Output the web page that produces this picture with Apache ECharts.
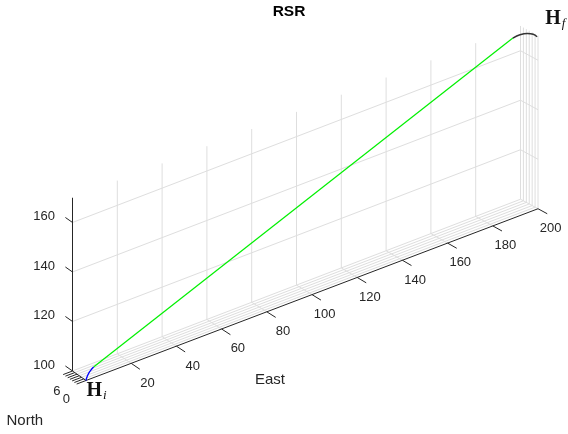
<!DOCTYPE html>
<html>
<head>
<meta charset="utf-8">
<script src="https://cdn.jsdelivr.net/npm/echarts@6/dist/echarts.min.js"></script>
<style>
  html, body { margin: 0; padding: 0; background: #ffffff; }
  #chart { width: 568px; height: 434px; }
</style>
</head>
<body>
<div id="chart"></div>
<script>
// Axis limits: East, North, Up
const eastLim = [0, 200];
const northLim = [0, 6];
const upLim = [100, 170];

// Tick values and their labels
const eastTicks = [20, 40, 60, 80, 100, 120, 140, 160, 180, 200];
const eastTickLabels = ['20', '40', '60', '80', '100', '120', '140', '160', '180', '200'];
const northTicks = [0, 1, 2, 3, 4, 5, 6];
const northTickLabels = ['0', '', '', '', '', '', '6'];
const upTicks = [100, 120, 140, 160];
const upTickLabels = ['100', '120', '140', '160'];

// First right turn (blue)
const turn1East = [0, 1.21, 2.63, 3.82, 4.87];
const turn1North = [0, 0.69, 1.21, 1.44, 1.5];
const turn1Up = [100, 100.75, 101.6, 102.2, 102.8];

// Straight climbing segment (green)
const straightEast = [4.87, 195.3];
const straightNorth = [1.5, 5.0];
const straightUp = [102.8, 167.4];

// Final right turn (black)
const turn2East = [195.3, 197.65, 199.15, 199.84, 200.0];
const turn2North = [5.0, 4.37, 3.0, 1.52, 0.3];
const turn2Up = [167.4, 168.3, 169.2, 169.6, 169.3];

// View: the ground plane is sheared into the page, North recedes up-left,
// with a little foreshortening growing toward the far East end.
const VIEW = { nE0: 0.995, nE1: 0.00148, uE: 0.347, uN: 0.64 };
function proj(e, n, u) {
  return [e - (VIEW.nE0 + VIEW.nE1 * e) * n, u + VIEW.uE * e + VIEW.uN * n];
}
function toXY(p) { return proj(p[0], p[1], p[2]); }
function seg(a, b) { return toXY(a).concat(toXY(b)); }

const AXIS_COLOR = '#262626';
const GRID_COLOR = '#dedede';
const TICK_FONT = '13px "Liberation Sans", Arial, sans-serif';

const eMin = eastLim[0], eMax = eastLim[1];
const nMin = northLim[0], nMax = northLim[1];
const uMin = upLim[0], uMax = upLim[1];

// Grid lines on the three back planes
const gridSegs = [];
// back wall (North = max)
eastTicks.forEach(e => { if (e < eMax) gridSegs.push(seg([e, nMax, uMin], [e, nMax, uMax])); });
upTicks.forEach(u => { if (u > uMin) gridSegs.push(seg([eMin, nMax, u], [eMax, nMax, u])); });
// floor (Up = min)
northTicks.forEach(n => { if (n > nMin) gridSegs.push(seg([eMin, n, uMin], [eMax, n, uMin])); });
eastTicks.forEach(e => gridSegs.push(seg([e, nMin, uMin], [e, nMax, uMin])));
// side wall (East = max)
northTicks.forEach(n => gridSegs.push(seg([eMax, n, uMin], [eMax, n, uMax])));
upTicks.forEach(u => { if (u > uMin) gridSegs.push(seg([eMax, nMin, u], [eMax, nMax, u])); });

// Axis lines
const axisSegs = [
  seg([eMin, nMin, uMin], [eMax, nMin, uMin]),
  seg([eMin, nMin, uMin], [eMin, nMax, uMin]),
  seg([eMin, nMax, uMin], [eMin, nMax, uMax])
];

function segSeries(data, color, width, z) {
  return {
    type: 'custom', coordinateSystem: 'cartesian2d', silent: true, clip: false, z: z,
    data: data, encode: { x: [0, 2], y: [1, 3] },
    renderItem: function (params, api) {
      const a = api.coord([api.value(0), api.value(1)]);
      const b = api.coord([api.value(2), api.value(3)]);
      return { type: 'line', shape: { x1: a[0], y1: a[1], x2: b[0], y2: b[1] },
               style: { stroke: color, lineWidth: width } };
    }
  };
}

// Ticks: drawn from the axis point along a direction taken from the view
function tickSeries(points, dirPoints, len, labels, lab) {
  const data = points.map((p, i) => toXY(p).concat(toXY(dirPoints[i])));
  return {
    type: 'custom', coordinateSystem: 'cartesian2d', silent: true, clip: false, z: 5,
    data: data, encode: { x: [0, 2], y: [1, 3] },
    renderItem: function (params, api) {
      const a = api.coord([api.value(0), api.value(1)]);
      const b = api.coord([api.value(2), api.value(3)]);
      let dx = b[0] - a[0], dy = b[1] - a[1];
      const L = Math.hypot(dx, dy); dx /= L; dy /= L;
      const children = [{
        type: 'line',
        shape: { x1: a[0], y1: a[1], x2: a[0] + dx * len, y2: a[1] + dy * len },
        style: { stroke: AXIS_COLOR, lineWidth: 1 }
      }];
      const t = labels[params.dataIndex];
      if (t) {
        const off = lab.perIndex && lab.perIndex[params.dataIndex] ? lab.perIndex[params.dataIndex] : [lab.dx, lab.dy];
        children.push({
          type: 'text', x: a[0] + off[0], y: a[1] + off[1],
          style: { text: t, fill: AXIS_COLOR, font: TICK_FONT, align: lab.align, verticalAlign: 'middle' }
        });
      }
      return { type: 'group', children: children };
    }
  };
}

function pathData(es, ns, us) { return es.map((e, i) => proj(e, ns[i], us[i])); }

// Endpoint labels H_i and H_f
const endpointData = [
  proj(turn1East[0], turn1North[0], turn1Up[0]),
  proj(turn2East[turn2East.length - 1], turn2North[turn2North.length - 1], turn2Up[turn2Up.length - 1])
];
const endpointSub = ['i', 'f'];
const endpointOffset = [[0.5, 10.5], [8.2, -17.8]];

const option = {
  animation: false,
  backgroundColor: '#ffffff',
  grid: { left: 18.2, right: 7.4, top: 9.25, bottom: 28.75 },
  xAxis: { type: 'value', min: -30, max: 210, show: false },
  yAxis: { type: 'value', min: 90, max: 250, show: false },
  graphic: [
    { type: 'text', x: 289, y: 12, silent: true,
      style: { text: 'RSR', font: 'bold 15.5px "Liberation Sans", Arial, sans-serif', fill: '#000000',
               align: 'center', verticalAlign: 'middle' } },
    { type: 'text', x: 270, y: 380, silent: true,
      style: { text: 'East', font: '15px "Liberation Sans", Arial, sans-serif', fill: AXIS_COLOR,
               align: 'center', verticalAlign: 'middle' } },
    { type: 'text', x: 6.5, y: 421, silent: true,
      style: { text: 'North', font: '15px "Liberation Sans", Arial, sans-serif', fill: AXIS_COLOR,
               align: 'left', verticalAlign: 'middle' } }
  ],
  series: [
    segSeries(gridSegs, GRID_COLOR, 1, 1),
    segSeries(axisSegs, AXIS_COLOR, 1, 4),
    tickSeries(eastTicks.map(e => [e, nMin, uMin]), eastTicks.map(e => [e, nMin - 1, uMin]),
               10.5, eastTickLabels, { dx: 23.5, dy: 19.8, align: 'right' }),
    tickSeries(northTicks.map(n => [eMin, n, uMin]), northTicks.map(n => [eMin - 1, n, uMin]),
               10, northTickLabels, { dx: -16.5, dy: 17, align: 'right',
                                      perIndex: { 0: [-16, 18.5], 6: [-12, 20] } }),
    tickSeries(upTicks.map(u => [eMin, nMax, u]), upTicks.map(u => [eMin, nMax + 1, u]),
               8.7, upTickLabels, { dx: -17.5, dy: -6, align: 'right' }),
    { type: 'line', data: pathData(straightEast, straightNorth, straightUp), showSymbol: false,
      silent: true, z: 6, lineStyle: { color: '#00f000', width: 1.2 } },
    { type: 'line', data: pathData(turn1East, turn1North, turn1Up), smooth: 0.4, showSymbol: false,
      silent: true, z: 7, lineStyle: { color: '#0000ff', width: 1.3 } },
    { type: 'line', data: pathData(turn2East, turn2North, turn2Up), smooth: 0.4, showSymbol: false,
      silent: true, z: 7, lineStyle: { color: '#333333', width: 1.5 } },
    {
      type: 'custom', coordinateSystem: 'cartesian2d', silent: true, clip: false, z: 8,
      data: endpointData,
      renderItem: function (params, api) {
        const p = api.coord([api.value(0), api.value(1)]);
        const o = endpointOffset[params.dataIndex];
        return { type: 'group', children: [
          { type: 'text', x: p[0] + o[0], y: p[1] + o[1],
            style: { text: 'H', font: 'bold 20px "Liberation Serif", "DejaVu Serif", serif', fill: '#111111',
                     align: 'left', verticalAlign: 'middle' } },
          { type: 'text', x: p[0] + o[0] + 16.5, y: p[1] + o[1] + 4.5,
            style: { text: endpointSub[params.dataIndex], font: 'italic 13px "Liberation Serif", "DejaVu Serif", serif',
                     fill: '#111111', align: 'left', verticalAlign: 'middle' } }
        ] };
      }
    }
  ]
};

const chart = echarts.init(document.getElementById('chart'), null, { renderer: 'canvas' });
chart.setOption(option);
</script>
</body>
</html>
